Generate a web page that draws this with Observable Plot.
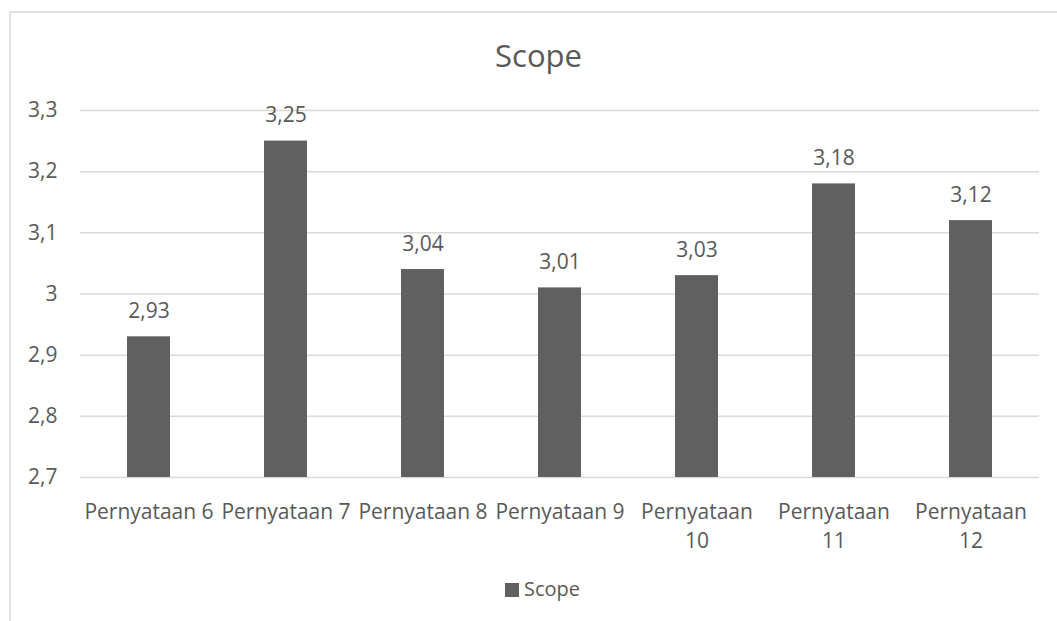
<!DOCTYPE html>
<html>
<head>
<meta charset="utf-8">
<script src="https://cdn.jsdelivr.net/npm/d3@7"></script>
<script src="https://cdn.jsdelivr.net/npm/@observablehq/plot@0.6"></script>
<style>
  html, body { margin: 0; padding: 0; background: #fff; overflow: hidden; }
  #wrap { position: relative; width: 1057px; height: 621px; font-family: "Open Sans", sans-serif; color: #595959; }
  #frame { position: absolute; left: 9px; top: 11px; width: 1100px; height: 700px; border-left: 2px solid #e2e2e2; border-top: 2px solid #e2e2e2; }
  #title { position: relative; height: 90px; }
  #title span { position: absolute; left: 20px; width: 1037px; top: 40px; text-align: center; font-size: 31px; line-height: 31px; }
  #chart { position: relative; height: 470px; }
  #legend { position: relative; height: 61px; }
  #legend .sw { position: absolute; left: 505px; top: 23px; width: 14px; height: 14px; background: #606060; }
  #legend .lb { position: absolute; left: 524px; top: 19px; font-size: 20px; line-height: 20px; }
</style>
</head>
<body>
<div id="wrap">
  <div id="frame"></div>
  <div id="title"><span>Scope</span></div>
  <div id="chart"></div>
  <div id="legend"><div class="sw"></div><div class="lb">Scope</div></div>
</div>
<script>
const categories = ["Pernyataan 6", "Pernyataan 7", "Pernyataan 8", "Pernyataan 9", "Pernyataan 10", "Pernyataan 11", "Pernyataan 12"];
const values = [2.93, 3.25, 3.04, 3.01, 3.03, 3.18, 3.12];
const yTicks = [2.7, 2.8, 2.9, 3.0, 3.1, 3.2, 3.3];
const seriesName = "Scope";

const data = categories.map((c, i) => ({category: c, value: values[i]}));
const comma = s => s.replace(".", ",");

const chart = Plot.plot({
  width: 1057,
  height: 470,
  marginTop: 20,
  marginBottom: 83,
  marginLeft: 80,
  marginRight: 18,
  style: {fontFamily: "Open Sans", fontSize: "21px", color: "#595959", background: "transparent"},
  x: {domain: categories, paddingInner: 0.686, paddingOuter: 0.343},
  y: {domain: [2.7, 3.3]},
  marks: [
    Plot.ruleY(yTicks, {stroke: "#d9d9d9", strokeWidth: 1.5}),
    Plot.barY(data, {x: "category", y1: 2.7, y2: "value", fill: "#606060"}),
    Plot.text(data, {x: "category", y: "value", text: d => comma(d3.format(".2f")(d.value)), lineAnchor: "bottom", dy: -19, fill: "#595959", fontSize: 21}),
    Plot.axisY({ticks: yTicks, tickSize: 0, tickPadding: 23, tickFormat: d => comma(String(d)), label: null, fontSize: 21}),
    Plot.axisX({tickSize: 0, tickPadding: 21, lineHeight: 1.38, label: null, fontSize: 21,
      tickFormat: d => d.length > 12 ? d.replace(" ", "\n") : d})
  ]
});
document.getElementById("chart").appendChild(chart);
</script>
</body>
</html>
